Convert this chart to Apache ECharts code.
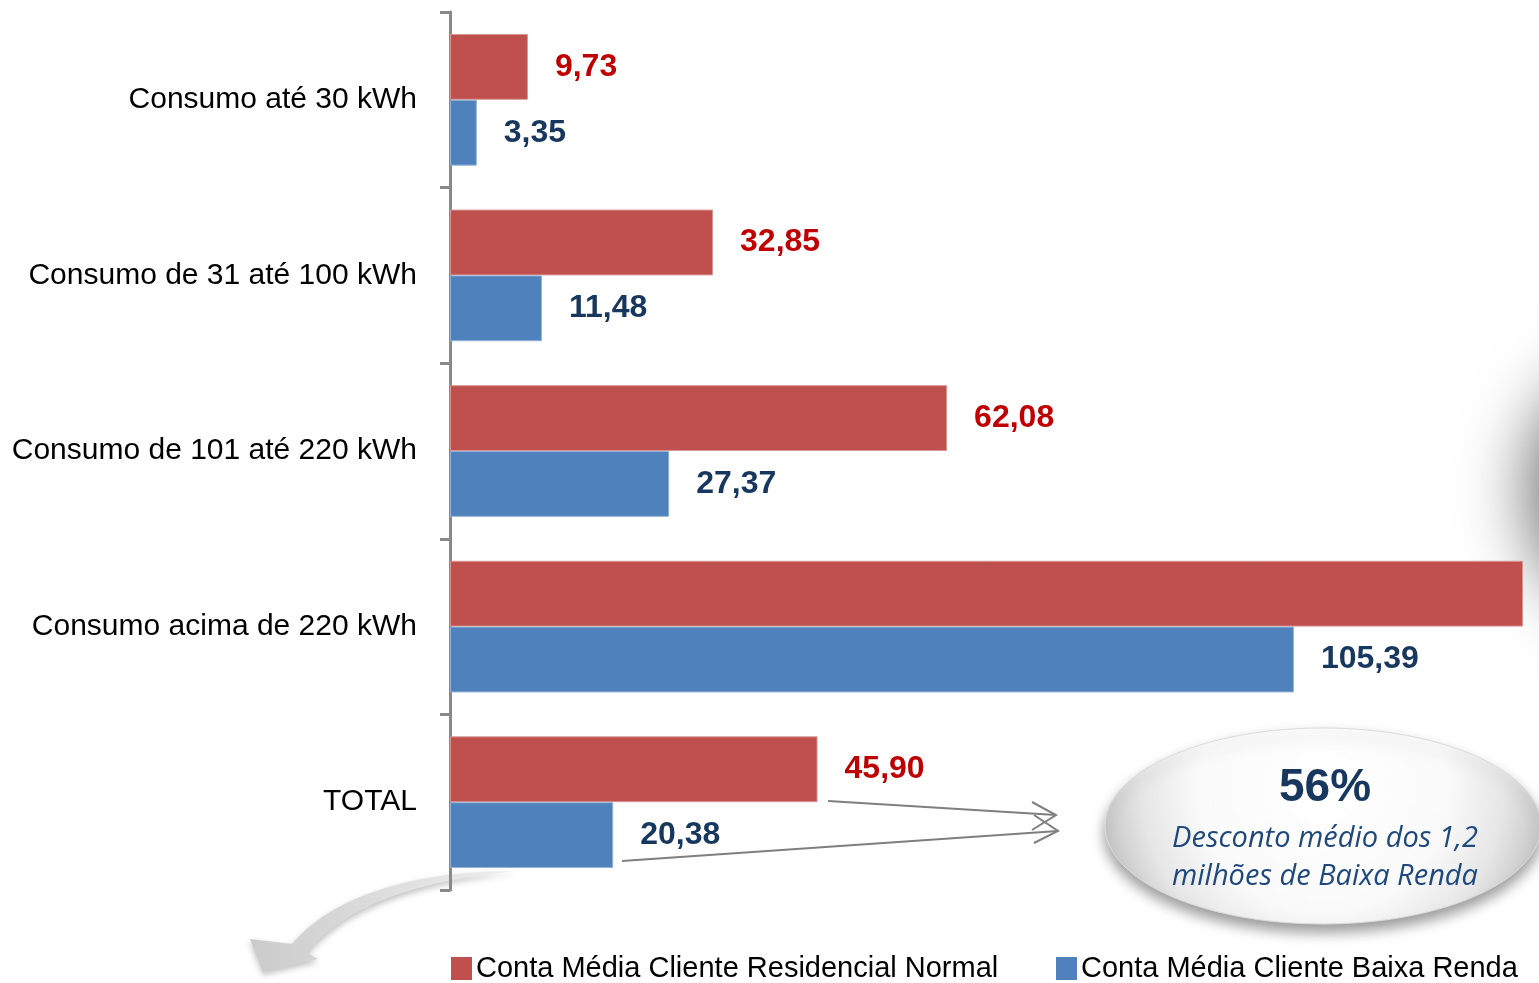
<!DOCTYPE html>
<html>
<head>
<meta charset="utf-8">
<script src="https://cdn.jsdelivr.net/npm/echarts@6/dist/echarts.min.js"></script>
<style>
  html, body { margin: 0; padding: 0; background: #fff; }
  #chart { width: 1539px; height: 983px; }
</style>
</head>
<body>
<div id="chart"></div>
<script>
const categories = ['Consumo até 30 kWh', 'Consumo de 31 até 100 kWh', 'Consumo de 101 até 220 kWh', 'Consumo acima de 220 kWh', 'TOTAL']
const normal = [9.73, 32.85, 62.08, 134, 45.90]
const baixaRenda = [3.35, 11.48, 27.37, 105.39, 20.38]
const seriesNames = ['Conta Média Cliente Residencial Normal', 'Conta Média Cliente Baixa Renda']
// the big red bar runs past the right edge of the slide, its label is cut off
const hiddenLabel = 3

const font = "'Liberation Sans', Arial, sans-serif"
const fmt = p => p.value.toFixed(2).replace('.', ',')

const chart = echarts.init(document.getElementById('chart'))

const arrowHead = (x, y, a) => ({
    type: 'polyline',
    shape: { points: [[x - 24, y - 14 + a], [x, y], [x - 24, y + 14 + a]] },
    style: { stroke: '#7f7f7f', lineWidth: 2, fill: null }
})

// sample a cubic bezier into points for a polygon
const bez = (p0, p1, p2, p3, n) => {
    const pts = []
    for (let i = 0; i <= n; i++) {
        const t = i / n, u = 1 - t
        pts.push([
            u * u * u * p0[0] + 3 * u * u * t * p1[0] + 3 * u * t * t * p2[0] + t * t * t * p3[0],
            u * u * u * p0[1] + 3 * u * u * t * p1[1] + 3 * u * t * t * p2[1] + t * t * t * p3[1]
        ])
    }
    return pts
}
const curvedArrow = [].concat(
    bez([515, 871], [420, 871], [335, 893], [292, 944], 20),
    [[250, 939], [263, 972], [318, 959]],
    bez([307, 953], [345, 905], [420, 880], [515, 871], 20)
)

const legendBase = {
    top: 954,
    padding: 0,
    itemWidth: 21,
    itemHeight: 23,
    icon: 'rect',
    itemStyle: { borderWidth: 0 },
    textStyle: { fontFamily: font, fontSize: 29, color: '#000', padding: [0, 0, 0, -1] }
}

chart.setOption({
    animation: false,
    grid: { left: 450, right: 16, top: 12, bottom: 93, outerBoundsMode: 'none', containLabel: false },
    legend: [
        Object.assign({ left: 451, data: [seriesNames[0]] }, legendBase),
        Object.assign({ left: 1056, data: [seriesNames[1]] }, legendBase)
    ],
    xAxis: {
        type: 'value',
        min: 0,
        max: 134,
        show: false
    },
    yAxis: {
        type: 'category',
        inverse: true,
        data: categories,
        axisLine: { lineStyle: { color: '#898989', width: 3 } },
        axisTick: { show: true, length: 10, lineStyle: { color: '#898989', width: 3 } },
        axisLabel: { fontFamily: font, fontSize: 30, color: '#000', margin: 33, padding: [8, 0, 0, 0] }
    },
    series: [
        {
            name: seriesNames[0],
            type: 'bar',
            barGap: '0%',
            barCategoryGap: '25%',
            itemStyle: { color: '#c0504d', borderColor: '#d99694', borderWidth: 1 },
            label: {
                show: true, position: 'right', distance: 27, formatter: fmt,
                fontFamily: font, fontSize: 32, fontWeight: 'bold', color: '#c00000'
            },
            data: normal.map((v, i) => i === hiddenLabel ? { value: v, label: { show: false } } : v)
        },
        {
            name: seriesNames[1],
            type: 'bar',
            itemStyle: { color: '#4f81bd', borderColor: '#95b3d7', borderWidth: 1 },
            label: {
                show: true, position: 'right', distance: 27, formatter: fmt,
                fontFamily: font, fontSize: 32, fontWeight: 'bold', color: '#17375e'
            },
            data: baixaRenda
        }
    ],
    graphic: [
        // shadow of a shape sitting off the right edge
        {
            type: 'circle', z: -10,
            shape: { cx: 1690, cy: 440, r: 140 },
            style: { fill: '#fff', shadowBlur: 70, shadowColor: 'rgba(0,0,0,0.6)', shadowOffsetX: -20, shadowOffsetY: 50 }
        },
        // curved arrow bottom-left
        {
            type: 'polygon', z: -5,
            shape: { points: curvedArrow },
            style: {
                fill: { type: 'linear', x: 0, y: 0, x2: 1, y2: 0, colorStops: [
                    { offset: 0, color: '#cbcbcb' }, { offset: 1, color: '#efefef' }
                ] },
                shadowBlur: 6, shadowColor: 'rgba(0,0,0,0.25)', shadowOffsetY: 3
            }
        },
        // the two thin arrows into the bubble
        {
            type: 'polyline',
            shape: { points: [[828, 801], [1056, 815]] },
            style: { stroke: '#7f7f7f', lineWidth: 2, fill: null }
        },
        arrowHead(1056, 815, 1),
        {
            type: 'polyline',
            shape: { points: [[622, 861], [1058, 831]] },
            style: { stroke: '#7f7f7f', lineWidth: 2, fill: null }
        },
        arrowHead(1058, 831, -2),
        // bubble
        {
            type: 'ellipse', z: 5,
            shape: { cx: 1323, cy: 826, rx: 218, ry: 98 },
            style: {
                fill: { type: 'radial', x: 0.5, y: 0.3, r: 1.15, colorStops: [
                    { offset: 0, color: '#ffffff' }, { offset: 0.55, color: '#fafafa' },
                    { offset: 0.8, color: '#e6e6e6' }, { offset: 1, color: '#c4c4c4' }
                ] },
                stroke: '#dcdcdc', lineWidth: 1,
                shadowBlur: 14, shadowColor: 'rgba(0,0,0,0.4)', shadowOffsetY: 8
            }
        },
        {
            type: 'text', z: 6, x: 1325, y: 788,
            style: {
                text: '56%', fill: '#17375e', align: 'center', verticalAlign: 'middle',
                fontFamily: "'Liberation Sans', sans-serif", fontWeight: 'bold', fontSize: 46
            }
        },
        {
            type: 'text', z: 6, x: 1325, y: 858,
            style: {
                text: 'Desconto médio dos 1,2\nmilhões de Baixa Renda', fill: '#1f497d',
                align: 'center', verticalAlign: 'middle', lineHeight: 38,
                fontFamily: "'Open Sans', sans-serif", fontStyle: 'italic', fontSize: 29
            }
        }
    ]
})
</script>
</body>
</html>
